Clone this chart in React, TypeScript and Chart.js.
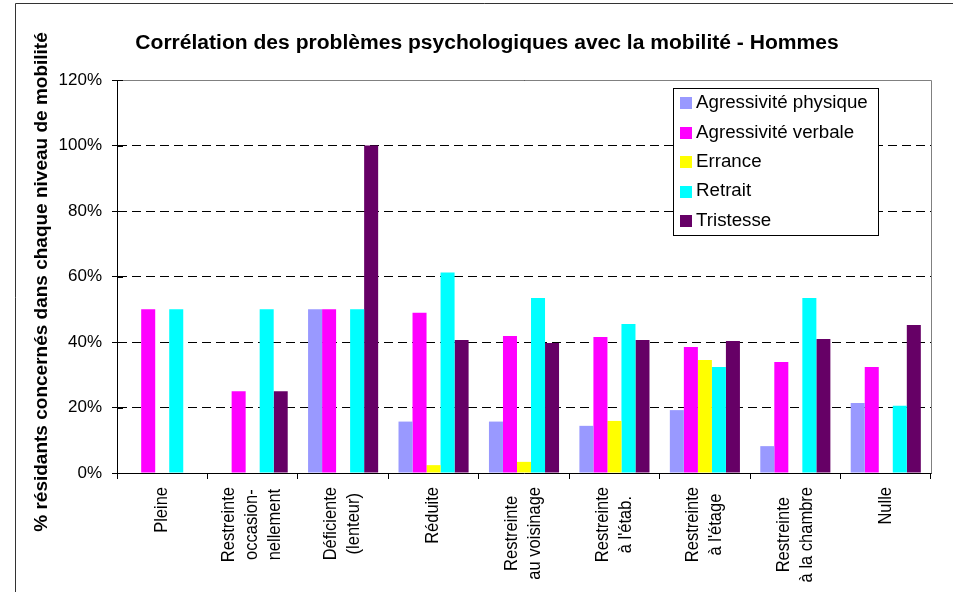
import { useEffect, useRef } from "react";
import { Chart, registerables } from "chart.js";

Chart.register(...registerables);

const title = "Corrélation des problèmes psychologiques avec la mobilité - Hommes";
const yAxisTitle = "% résidants concernés dans chaque niveau de mobilité";

const categories: string[][] = [
  ["Pleine"],
  ["Restreinte", "occasion-", "nellement"],
  ["Déficiente", "(lenteur)"],
  ["Réduite"],
  ["Restreinte", "au voisinage"],
  ["Restreinte", "à l'étab."],
  ["Restreinte", "à l'étage"],
  ["Restreinte", "à la chambre"],
  ["Nulle"],
];

const seriesNames = ["Agressivité physique", "Agressivité verbale", "Errance", "Retrait", "Tristesse"];
const seriesColors = ["#9999FF", "#FF00FF", "#FFFF00", "#00FFFF", "#660066"];

const agressivitePhysique = [0, 0, 50, 15.7, 15.7, 14.4, 19.2, 8.2, 21.4];
const agressiviteVerbale = [50, 25, 50, 48.9, 41.8, 41.5, 38.5, 33.9, 32.4];
const errance = [0, 0, 0, 2.4, 3.4, 15.9, 34.5, 0, 0];
const retrait = [50, 50, 50, 61.2, 53.4, 45.5, 32.4, 53.4, 20.5];
const tristesse = [0, 25, 100, 40.6, 39.7, 40.6, 40.3, 40.9, 45.2];

const seriesValues = [agressivitePhysique, agressiviteVerbale, errance, retrait, tristesse];

const yMin = 0;
const yMax = 120;
const yStep = 20;

const FONT = "'Liberation Sans', Arial, sans-serif";

const decorPlugin = {
  id: "decor",
  afterDraw(chart: any) {
    const ctx: CanvasRenderingContext2D = chart.ctx;
    const area = chart.chartArea;
    const xs = chart.scales.x;
    const ys = chart.scales.y;
    ctx.save();

    // plot area border (top / right)
    ctx.strokeStyle = "#808080";
    ctx.lineWidth = 1;
    ctx.setLineDash([]);
    ctx.beginPath();
    ctx.moveTo(Math.round(area.left) + 0.5, Math.round(area.top) + 0.5);
    ctx.lineTo(Math.round(area.right) + 0.5, Math.round(area.top) + 0.5);
    ctx.lineTo(Math.round(area.right) + 0.5, Math.round(area.bottom) + 0.5);
    ctx.stroke();

    // inner half of the cross tick marks on y axis
    ctx.strokeStyle = "#000";
    ctx.beginPath();
    ys.ticks.forEach((t: any) => {
      const y = Math.round(ys.getPixelForValue(t.value)) + 0.5;
      ctx.moveTo(area.left, y);
      ctx.lineTo(area.left + 6, y);
    });
    ctx.stroke();

    // outer frame
    ctx.strokeStyle = "#333";
    ctx.beginPath();
    ctx.moveTo(15.5, chart.height);
    ctx.lineTo(15.5, 3.5);
    ctx.lineTo(chart.width, 3.5);
    ctx.stroke();

    // title
    ctx.fillStyle = "#000";
    ctx.font = `bold 19.5px ${FONT}`;
    ctx.textAlign = "center";
    ctx.textBaseline = "middle";
    ctx.save();
    ctx.translate(487, 44);
    ctx.scale(1.08, 1);
    ctx.fillText(title, 0, 0);
    ctx.restore();

    // y axis title
    ctx.font = `bold 19px ${FONT}`;
    ctx.save();
    ctx.translate(41.5, 282);
    ctx.rotate(-Math.PI / 2);
    ctx.fillText(yAxisTitle, 0, 0);
    ctx.restore();

    // x category labels (rotated, multi-line, centered)
    ctx.font = `16.5px ${FONT}`;
    categories.forEach((lines, i) => {
      const xc = xs.getPixelForValue(i);
      const w = Math.max(...lines.map((l) => ctx.measureText(l).width));
      const cy = 487 + w / 2;
      lines.forEach((line, j) => {
        const xl = xc + (j - (lines.length - 1) / 2) * 23;
        ctx.save();
        ctx.translate(xl, cy);
        ctx.scale(1.06, 1);
        ctx.rotate(-Math.PI / 2);
        ctx.fillText(line, 0, 0);
        ctx.restore();
      });
    });

    // legend
    const lx = 673.5, ly = 88.5, lw = 205, lh = 147;
    ctx.fillStyle = "#fff";
    ctx.fillRect(lx, ly, lw, lh);
    ctx.strokeStyle = "#000";
    ctx.strokeRect(lx, ly, lw, lh);
    ctx.font = `17.5px ${FONT}`;
    ctx.textAlign = "left";
    chart.data.datasets.forEach((ds: any, k: number) => {
      const yc = 103.3 + k * 29.4;
      ctx.fillStyle = ds.backgroundColor;
      ctx.fillRect(680, Math.round(yc - 6), 12, 12);
      ctx.fillStyle = "#000";
      ctx.save();
      ctx.translate(696, yc);
      ctx.scale(1.07, 1);
      ctx.fillText(ds.label, 0, 0);
      ctx.restore();
    });

    ctx.restore();
  },
};

export default function App() {
  const ref = useRef<HTMLCanvasElement | null>(null);
  useEffect(() => {
    document.body.style.margin = "0";
    const canvas = ref.current!;
    const chart = new Chart(canvas, {
      type: "bar",
      data: {
        labels: categories.map((c) => c.join(" ")),
        datasets: seriesNames.map((name, k) => ({
          label: name,
          data: seriesValues[k],
          backgroundColor: seriesColors[k],
          borderWidth: 0,
          categoryPercentage: 0.775,
          barPercentage: 1.0,
        })),
      },
      options: {
        responsive: false,
        animation: false,
        layout: { padding: { left: 0, right: 22, top: 80, bottom: 0 } },
        plugins: {
          legend: { display: false },
          title: { display: false },
          tooltip: { enabled: false },
        },
        scales: {
          x: {
            ticks: { display: false },
            grid: {
              offset: true,
              drawOnChartArea: false,
              drawTicks: true,
              tickLength: 6,
              tickColor: "#000",
            },
            border: { color: "#000", width: 1 },
            afterFit: (scale: any) => {
              scale.height = 119;
            },
          },
          y: {
            min: yMin,
            max: yMax,
            ticks: {
              stepSize: yStep,
              callback: (v: any) => v + "%",
              color: "#000",
              font: { family: FONT, size: 17 },
              padding: 10,
            },
            grid: {
              color: (c: any) => (c.tick && c.tick.value === 0 ? "rgba(0,0,0,0)" : "#000"),
              lineWidth: 1,
              drawTicks: true,
              tickLength: 5,
              tickColor: "#000",
              tickBorderDash: [],
            },
            border: { color: "#000", width: 1, dash: [9, 5] },
            title: { display: false },
            afterFit: (scale: any) => {
              scale.width = 117;
            },
          },
        },
      },
      plugins: [decorPlugin],
    });
    return () => chart.destroy();
  }, []);
  return (
    <div style={{ position: "absolute", left: 0, top: 0, width: 953, height: 592, background: "#fff" }}>
      <canvas ref={ref} width={953} height={592} />
    </div>
  );
}
